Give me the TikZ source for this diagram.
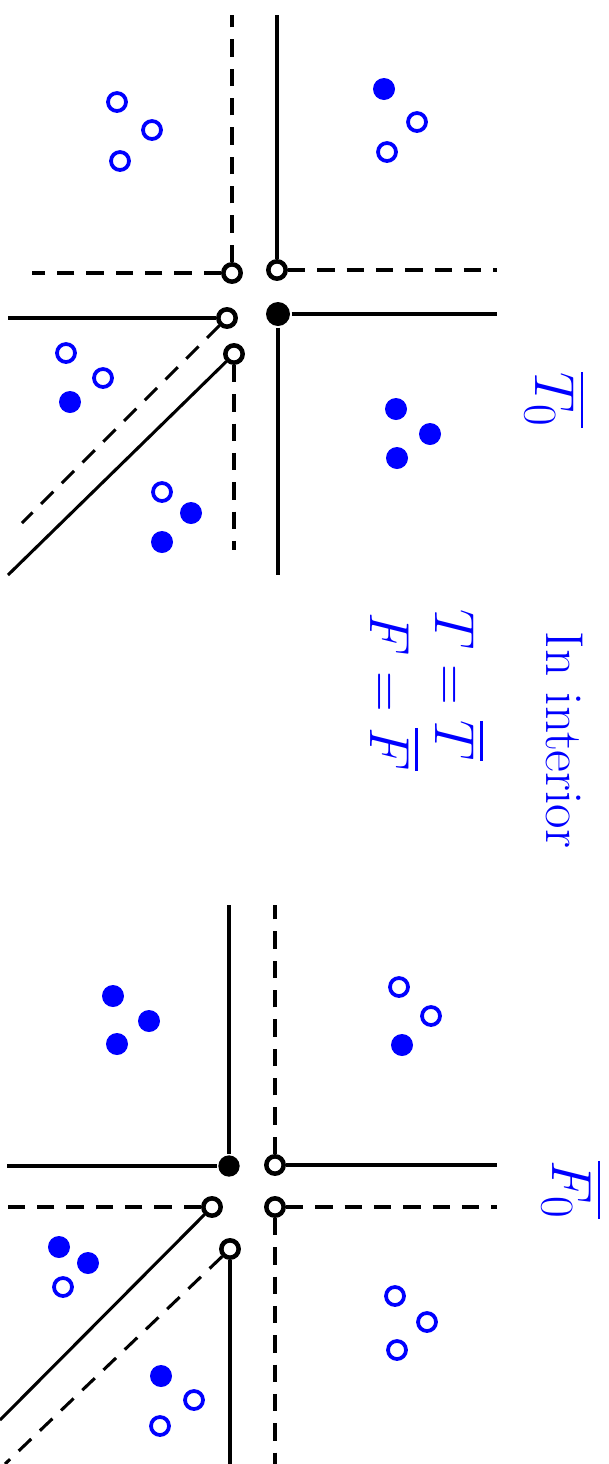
\documentclass[tikz,border=0pt]{standalone}
\usepackage{amsmath}

\tikzset{
  hole/.style={circle,draw,line width=3.4pt,inner sep=0pt,minimum size=13pt},
  blob/.style={circle,fill,inner sep=0pt,minimum size=18pt},
  bhole/.style={circle,draw=blue,line width=2.8pt,inner sep=0pt,minimum size=13.5pt},
  bblob/.style={circle,fill=blue,inner sep=0pt,minimum size=16.5pt},
  hand/.style={text=blue,rotate=-90,font=\fontsize{40}{46}\selectfont},
  handmath/.style={text=blue,rotate=-90,font=\Huge,scale=1.7,transform shape},
  gapped/.style={dash pattern=on 13pt off 9pt}
}

\begin{document}
\begin{tikzpicture}[x=0.75pt,y=-0.75pt,line width=2.3pt]

\useasboundingbox (0,0) rectangle (608,1464);

% upper picture
\node[hole] (a1) at (232,273) {};
\node[hole] (a2) at (277,270) {};
\node[hole] (a3) at (227,318) {};
\node[blob] (a4) at (278,314) {};
\node[hole] (a5) at (234,354) {};

\draw[gapped] (a1) -- (a1 |- 0,15);
\draw[gapped] (a1) -- (a1 -| 32,0);
\draw (a2) -- (a2 |- 0,15);
\draw[gapped] (a2) -- (a2 -| 497,0);
\draw (a3) -- (a3 -| 8,0);
\draw[gapped] (a3) -- (22,523);
\draw (a4) -- (a4 -| 497,0);
\draw (a4) -- (a4 |- 0,575);
\draw (a5) -- (8,575);
\draw[gapped] (a5) -- (a5 |- 0,550);

\node[bhole] (p1) at (117,102) {};
\node[bhole] (p2) at (152,130) {};
\node[bhole] (p3) at (120,161) {};

\node[bblob] (p4) at (384,89) {};
\node[bhole] (p5) at (417,122) {};
\node[bhole] (p6) at (387,152) {};

\node[bhole] (p7) at (66,353) {};
\node[bhole] (p8) at (103,378) {};
\node[bblob] (p9) at (70,402) {};

\node[bhole] (p10) at (162,492) {};
\node[bblob] (p11) at (191,513) {};
\node[bblob] (p12) at (162,542) {};

\node[bblob] (p13) at (396,409) {};
\node[bblob] (p14) at (430,434) {};
\node[bblob] (p15) at (397,458) {};

\node[handmath] (t0) at (555,400) {$\overline{T_0}$};

% middle text
\node[hand] (note) at (564,740) {In interior};
\node[handmath] (teq) at (460,685) {$T=\overline{T}$};
\node[handmath] (feq) at (395,692) {$F=\overline{F}$};

% lower picture
\node[blob,minimum size=16pt] (b1) at (229,1166) {};
\node[hole] (b2) at (275,1165) {};
\node[hole] (b3) at (212,1207) {};
\node[hole] (b4) at (275,1207) {};
\node[hole] (b5) at (230,1249) {};

\draw (b1) -- (b1 |- 0,905);
\draw (b1) -- (b1 -| 7,0);
\draw[gapped] (b2) -- (b2 |- 0,905);
\draw (b2) -- (b2 -| 497,0);
\draw[gapped] (b3) -- (b3 -| 5,0);
\draw (b3) -- (0,1420);
\draw[gapped] (b4) -- (b4 -| 497,0);
\draw[gapped] (b4) -- (b4 |- 0,1464);
\draw (b5) -- (b5 |- 0,1464);
\draw[gapped] (b5) -- (5,1464);

\node[bblob] (q1) at (113,996) {};
\node[bblob] (q2) at (149,1021) {};
\node[bblob] (q3) at (117,1044) {};

\node[bhole] (q4) at (399,987) {};
\node[bhole] (q5) at (431,1016) {};
\node[bblob] (q6) at (402,1045) {};

\node[bblob] (q7) at (59,1247) {};
\node[bblob] (q8) at (88,1263) {};
\node[bhole] (q9) at (63,1287) {};

\node[bblob] (q10) at (161,1376) {};
\node[bhole] (q11) at (194,1400) {};
\node[bhole] (q12) at (160,1426) {};

\node[bhole] (q13) at (395,1296) {};
\node[bhole] (q14) at (427,1322) {};
\node[bhole] (q15) at (397,1350) {};

\node[handmath] (f0) at (572,1190) {$\overline{F_0}$};

\end{tikzpicture}
\end{document}
